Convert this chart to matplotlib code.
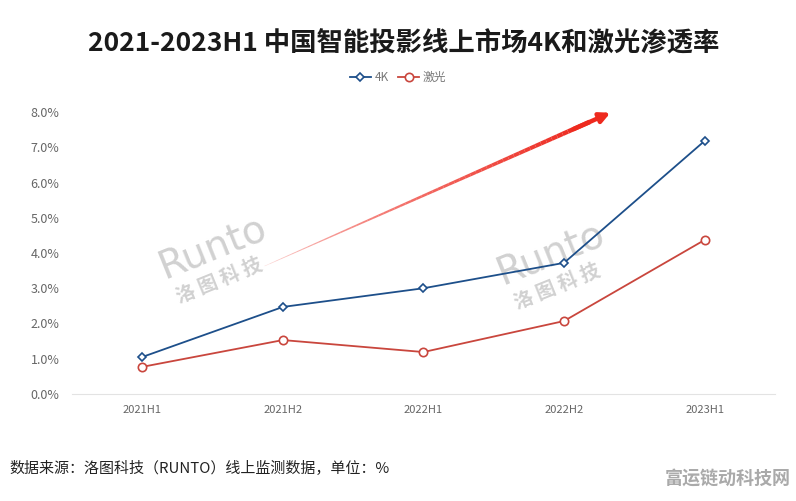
# 2021-2023H1 智能投影线上市场 4K / 激光渗透率
import matplotlib.pyplot as plt
import numpy as np
from matplotlib.collections import LineCollection

plt.rcParams["font.family"] = ["Noto Sans CJK SC", "DejaVu Sans"]

periods = ["2021H1", "2021H2", "2022H1", "2022H2", "2023H1"]
share_4k = [1.05, 2.47, 3.00, 3.72, 7.18]
share_laser = [0.77, 1.53, 1.19, 2.07, 4.37]
y_ticks = [0, 1, 2, 3, 4, 5, 6, 7, 8]

# 趋势箭头起止点（数据坐标）
arrow_from = (0.87, 3.63)
arrow_to = (3.33, 7.98)

C_4K, C_LASER, C_TICK, C_ARROW = "#1d4f8a", "#c9463d", "#666666", "#ee2a1e"


def trend_arrow(ax) -> None:
    # 渐变 + 渐粗的箭身，末端加箭头
    n = 60
    t = np.linspace(0, 0.94, n + 1)
    xs = arrow_from[0] + (arrow_to[0] - arrow_from[0]) * t
    ys = arrow_from[1] + (arrow_to[1] - arrow_from[1]) * t
    segs = [[(xs[i], ys[i]), (xs[i + 1], ys[i + 1])] for i in range(n)]
    k = np.linspace(0, 1, n)
    colors = [(0.93, 0.16, 0.12, 0.15 + 0.85 * v ** 0.6) for v in k]
    lc = LineCollection(segs, colors=colors, linewidths=0.4 + 3.0 * k,
                        capstyle="butt", zorder=3)
    ax.add_collection(lc)
    ax.annotate("", xy=arrow_to, xytext=(xs[-4], ys[-4]),
                arrowprops=dict(arrowstyle="-|>,head_length=0.6,head_width=0.3",
                                color=C_ARROW, lw=3.2, shrinkA=0, shrinkB=0),
                zorder=3)


def main() -> None:
    fig = plt.figure(figsize=(7.96, 5.01), dpi=100)
    ax = fig.add_axes([0.0905, 0.2136, 0.883, 0.5628])
    x = np.arange(len(periods))

    ax.plot(x, share_4k, "-D", color=C_4K, lw=1.3, ms=4.5, mfc="white",
            mew=1.2, label="4K", zorder=4)
    ax.plot(x, share_laser, "-o", color=C_LASER, lw=1.3, ms=6, mfc="white",
            mew=1.2, label="激光", zorder=4)

    ax.set_xlim(-0.5, len(periods) - 0.5)
    ax.set_ylim(0, 8)
    ax.set_xticks(x, periods)
    ax.set_yticks(y_ticks, [f"{v:.1f}%" for v in y_ticks])
    ax.tick_params(length=0, colors=C_TICK, labelsize=8)
    ax.tick_params(axis="y", labelsize=9, pad=9)
    ax.tick_params(axis="x", pad=8)
    for s in ["top", "right", "left"]:
        ax.spines[s].set_visible(False)
    ax.spines["bottom"].set_color("#e3e3e3")

    trend_arrow(ax)

    # 水印
    for wx, wy in [(0.2, 0.52), (0.68, 0.5)]:
        ax.text(wx, wy, "Runto", transform=ax.transAxes, rotation=22,
                fontsize=28, color="#bdbdbd", alpha=0.7, ha="center", va="center",
                family=["DejaVu Sans"], zorder=1)
        ax.text(wx + 0.01, wy - 0.12, "洛 图 科 技", transform=ax.transAxes, rotation=22,
                fontsize=14, color="#bdbdbd", alpha=0.7, ha="center", va="center",
                fontweight="bold", zorder=1)

    fig.text(0.507, 0.913, "2021-2023H1 中国智能投影线上市场4K和激光渗透率",
             ha="center", va="center", fontsize=19, fontweight="bold", color="#1a1a1a")
    fig.legend(loc="center", bbox_to_anchor=(0.5, 0.845), ncol=2, frameon=False,
               fontsize=8.5, labelcolor="#777777", handlelength=1.8, columnspacing=0.8,
               handletextpad=0.3)

    fig.text(0.012, 0.064, "数据来源：洛图科技（RUNTO）线上监测数据，单位：%",
             ha="left", va="center", fontsize=10.8, color="#222222")
    fig.text(0.993, 0.045, "富运链动科技网", ha="right", va="center",
             fontsize=13, fontweight="bold", color="#aaaaaa")

    fig.savefig("out.png", dpi=100, facecolor="white")
    plt.close(fig)


if __name__ == "__main__":
    main()
